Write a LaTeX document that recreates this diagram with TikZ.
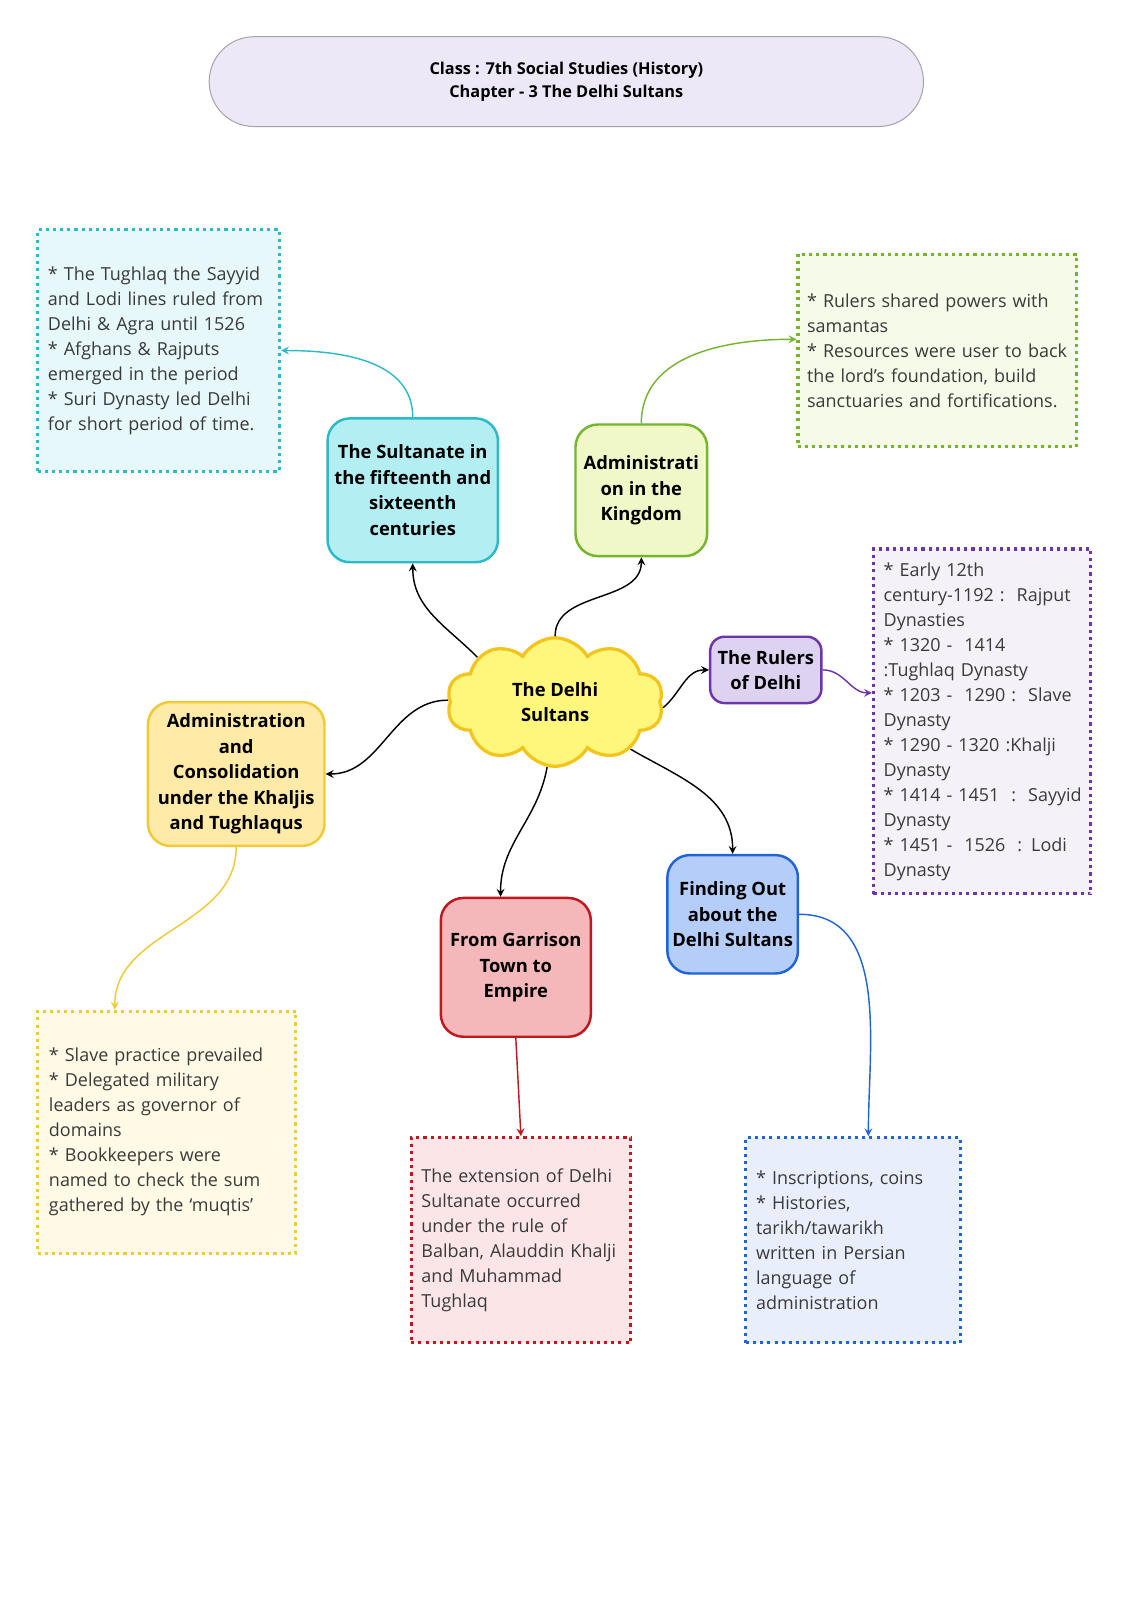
\documentclass[tikz,border=0pt]{standalone}
\usepackage{fontspec}
\setmainfont{Open Sans}
\usetikzlibrary{shapes.symbols}

\definecolor{titlefill}{HTML}{EDE8F7}
\definecolor{cyanline}{HTML}{2BBAC8}
\definecolor{cyanfill}{HTML}{B3EEF2}
\definecolor{cyanpale}{HTML}{E6F8FA}
\definecolor{greenline}{HTML}{77B42D}
\definecolor{greenfill}{HTML}{EFF8C6}
\definecolor{greenpale}{HTML}{F5FBE8}
\definecolor{purpleline}{HTML}{6E34AA}
\definecolor{purplefill}{HTML}{DED2F1}
\definecolor{purplepale}{HTML}{F4F1F8}
\definecolor{cloudline}{HTML}{F3C51C}
\definecolor{cloudfill}{HTML}{FFF67C}
\definecolor{yellowline}{HTML}{F0CA35}
\definecolor{yellowfill}{HTML}{FFEBA7}
\definecolor{yellowpale}{HTML}{FFFAE6}
\definecolor{redline}{HTML}{C0161D}
\definecolor{redfill}{HTML}{F4B7BA}
\definecolor{redpale}{HTML}{FBE5E7}
\definecolor{blueline}{HTML}{1F63D6}
\definecolor{bluefill}{HTML}{B4CDF9}
\definecolor{bluepale}{HTML}{E8EEFC}
\definecolor{notetext}{HTML}{3A3A3A}

\tikzset{
  topic/.style={draw, line width=1.2pt, rounded corners=11pt, align=center,
    inner sep=2pt, font=\bfseries\fontsize{9}{12.5}\selectfont},
  notes/.style={draw, line width=1.5pt, dash pattern=on 1.5pt off 2pt,
    align=left, inner ysep=4pt, inner xsep=5pt, text=notetext,
    font=\fontsize{8.8}{12.25}\selectfont},
  link/.style={-stealth, line width=0.7pt},
}

\begin{document}
\begin{tikzpicture}[x=0.5pt, y=-0.5pt]
\useasboundingbox[fill=white] (0,0) rectangle (1109,1568);

% heading
\node[draw=gray!70, fill=titlefill, line width=0.5pt, rounded corners=22pt,
  minimum width=350pt, minimum height=44pt, align=center,
  font=\bfseries\fontsize{8}{11}\selectfont] (title) at (555,80)
  {Class : 7th Social Studies (History)\\Chapter - 3 The Delhi Sultans};

% centre
\node[cloud, cloud puffs=10, cloud puff arc=120, aspect=1.7, draw=cloudline,
  fill=cloudfill, line width=1.6pt, minimum width=106pt, minimum height=63pt,
  align=center, font=\bfseries\fontsize{9}{12.5}\selectfont] (delhi) at (544,688)
  {The Delhi\\Sultans};

% topics
\node[topic, draw=cyanline, fill=cyanfill, minimum width=83.5pt, minimum height=70.5pt]
  (fifteenth) at (404.5,480.5) {The Sultanate in\\the fifteenth and\\sixteenth\\centuries};
\node[topic, draw=greenline, fill=greenfill, minimum width=64.5pt, minimum height=64.5pt]
  (kingdom) at (628.5,480.5) {Administrati\\on in the\\Kingdom};
\node[topic, draw=purpleline, fill=purplefill, rounded corners=7pt,
  minimum width=54.5pt, minimum height=32.5pt]
  (rulers) at (750.5,656.5) {The Rulers\\of Delhi};
\node[topic, draw=yellowline, fill=yellowfill, minimum width=86.5pt, minimum height=70.5pt]
  (khaljis) at (231.5,758.5)
  {Administration\\and\\Consolidation\\under the Khaljis\\and Tughlaqus};
\node[topic, draw=redline, fill=redfill, minimum width=73.5pt, minimum height=68pt]
  (garrison) at (505.5,948) {From Garrison\\Town to\\Empire};
\node[topic, draw=blueline, fill=bluefill, minimum width=64pt, minimum height=58pt]
  (findout) at (718,896) {Finding Out\\about the\\Delhi Sultans};

% notes ({} keeps the * after \\ from being read as \\*)
\node[notes, draw=cyanline, fill=cyanpale, text width=108.5pt, minimum height=118.5pt]
  (fifteenthnote) at (155.5,343.5)
  {* The Tughlaq the Sayyid\\\mbox{and Lodi lines ruled from}\\Delhi \& Agra until 1526\\{}* Afghans \& Rajputs\\emerged in the period\\{}* Suri Dynasty led Delhi\\for short period of time.};
\node[notes, draw=greenline, fill=greenpale, inner xsep=4.5pt, text width=127.5pt, minimum height=94.5pt]
  (kingdomnote) at (918.5,343.5)
  {* Rulers shared powers with\\samantas\\\mbox{* Resources were user to back}\\the lord’s foundation, build\\\mbox{sanctuaries and fortifications.}};
\node[notes, draw=purpleline, fill=purplepale, inner xsep=5pt, text width=96.5pt, minimum height=169pt]
  (rulersnote) at (962.5,707)
  {* Early 12th\\century-1192 :\ \ Rajput\\Dynasties\\{}* 1320 -\ \ 1414\\:Tughlaq Dynasty\\{}* 1203 -\ \ 1290 :\ \ Slave\\Dynasty\\{}* 1290 - 1320 :Khalji\\Dynasty\\\mbox{* 1414 - 1451\ \ :\ \ Sayyid}\\Dynasty\\{}* 1451 -\ \ 1526\ \ : Lodi\\Dynasty};
\node[notes, draw=yellowline, fill=yellowpale, inner xsep=5.5pt, text width=115.5pt, minimum height=118.5pt]
  (khaljisnote) at (163.5,1109.5)
  {* Slave practice prevailed\\{}* Delegated military\\leaders as governor of\\domains\\{}* Bookkeepers were\\named to check the sum\\gathered by the ‘muqtis’};
\node[notes, draw=redline, fill=redpale, inner xsep=5pt, text width=97.5pt, minimum height=100.5pt]
  (garrisonnote) at (510.5,1215.5)
  {The extension of Delhi\\Sultanate occurred\\under the rule of\\\mbox{Balban, Alauddin Khalji}\\and Muhammad\\Tughlaq};
\node[notes, draw=blueline, fill=bluepale, text width=95pt, minimum height=100.5pt]
  (findoutnote) at (836,1215.5)
  {* Inscriptions, coins\\{}* Histories,\\tarikh/tawarikh\\written in Persian\\language of\\administration};

% centre to topics
\draw[link] (delhi.150) to[out=135, in=-90] (fifteenth.south);
\draw[link] (delhi.90) to[out=90, in=-90] (kingdom.south);
\draw[link] (delhi.-3) to[out=40, in=180] (rulers.west);
\draw[link] (delhi.179) to[out=180, in=0] (khaljis.east);
\draw[link] (delhi.263) to[out=-100, in=90] ([xshift=-7.5pt]garrison.north);
\draw[link] (delhi.-32) to[out=-30, in=90] (findout.north);

% topics to notes
\draw[link, cyanline] (fifteenth.north) to[out=90, in=0] (fifteenthnote.east);
\draw[link, greenline] (kingdom.north) to[out=90, in=180] ([yshift=5.5pt]kingdomnote.west);
\draw[link, purpleline] (rulers.east) to[out=0, in=180] ([yshift=14pt]rulersnote.west);
\draw[link, yellowline] (khaljis.south) to[out=-90, in=90] ([xshift=-25.5pt]khaljisnote.north);
\draw[link, redline] (garrison.south) -- (garrisonnote.north);
\draw[link, blueline] (findout.east) to[out=0, in=90] ([xshift=7.5pt]findoutnote.north);
\end{tikzpicture}
\end{document}
